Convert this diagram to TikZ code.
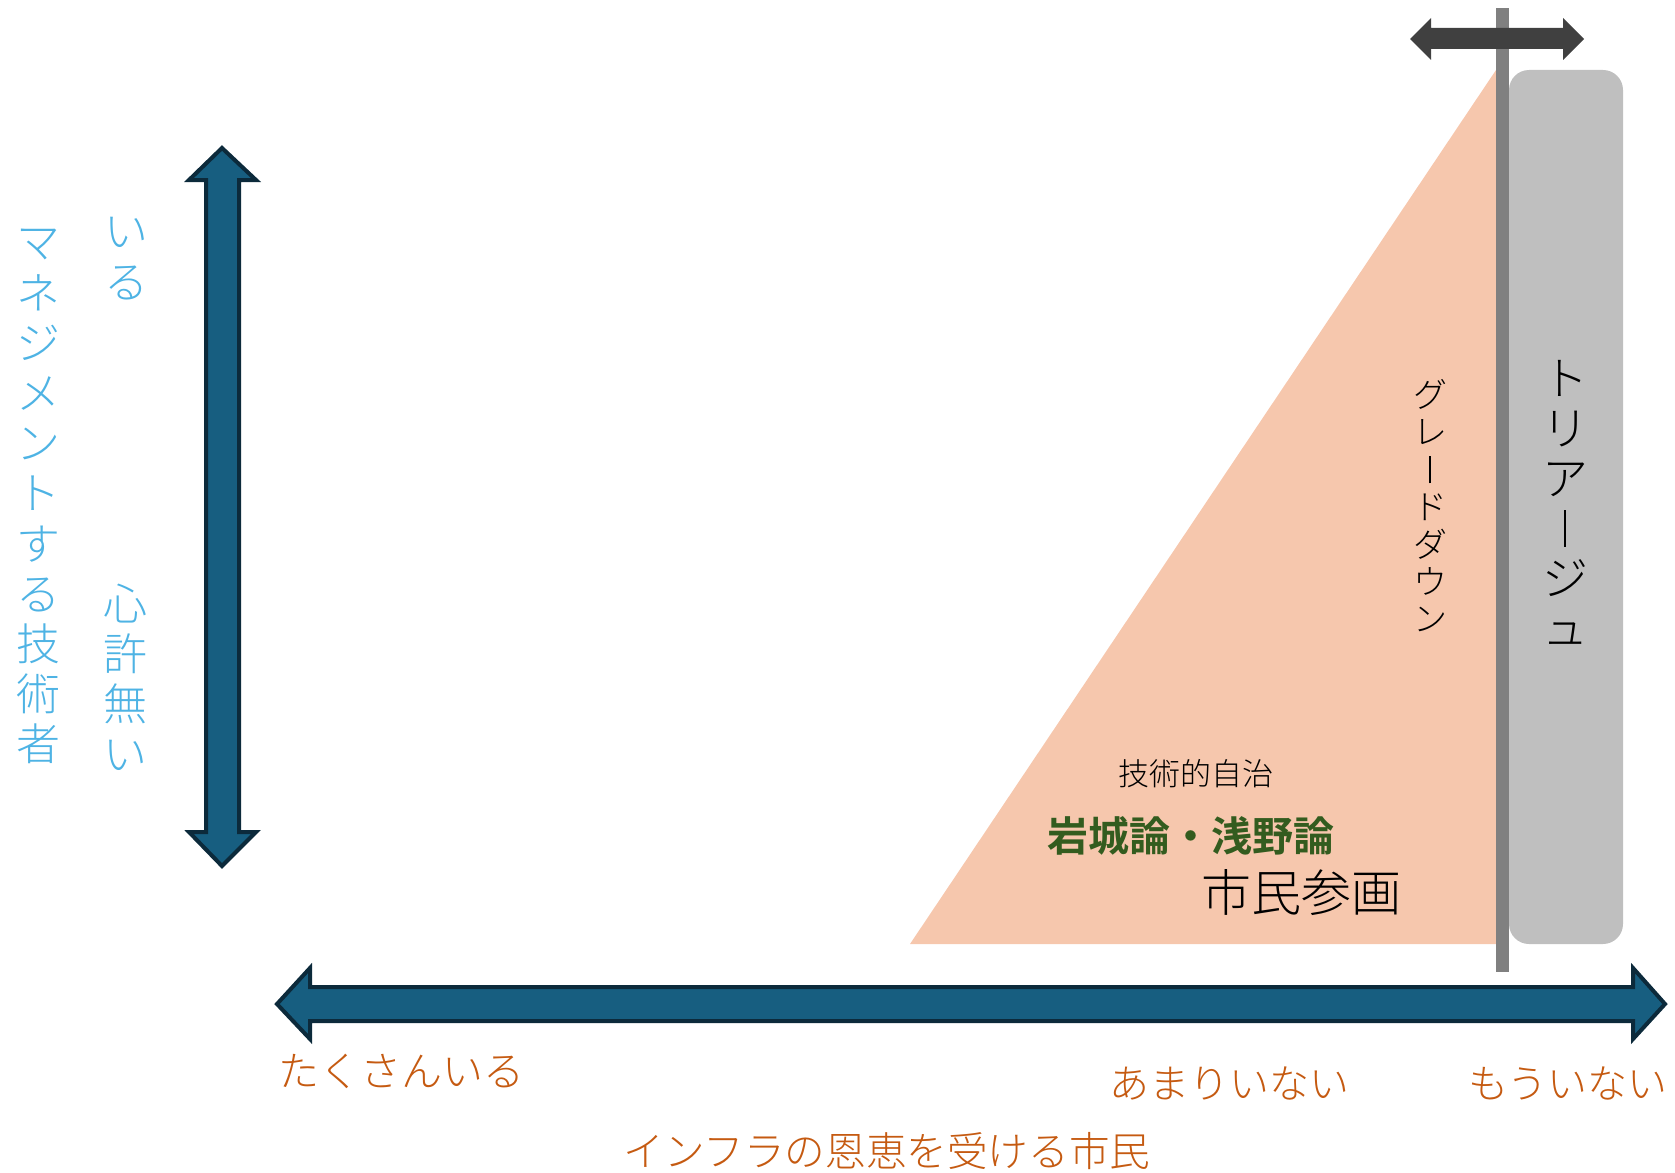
\documentclass[tikz,border=0pt]{standalone}
\usepackage{fontspec}
\IfFontExistsTF{Noto Sans CJK JP Light}
  {\newfontfamily\cjk{Noto Sans CJK JP Light}[BoldFont={Noto Sans CJK JP Bold}]}
  {\newfontfamily\cjk{Noto Sans CJK JP}}
\definecolor{arrfill}{HTML}{175E80}
\definecolor{arrline}{HTML}{0C2A3B}
\definecolor{skyb}{HTML}{4EB3E4}
\definecolor{peach}{HTML}{F6C7AD}
\definecolor{lgray}{HTML}{BFBFBF}
\definecolor{mgray}{HTML}{808080}
\definecolor{dgray}{HTML}{404040}
\definecolor{orng}{HTML}{C55A11}
\definecolor{dgreen}{HTML}{335C1F}
\newcommand{\vbar}{\makebox[1em]{\raisebox{-0.03em}{\rule{0.05em}{0.8em}}}}
\begin{document}
\begin{tikzpicture}[x=0.5pt,y=-0.5pt,
  blockarrow/.style={fill=arrfill,draw=arrline,line width=2pt,line join=miter},
  vtext/.style={align=center,inner sep=0pt,anchor=north},
  lbl/.style={inner sep=0pt,anchor=center}]
\useasboundingbox (0,0) rectangle (1675,1172);
% peach triangle
\fill[peach] (910,944) -- (1496,944) -- (1496,70) -- cycle;
% gray rounded box
\fill[lgray,rounded corners=10pt] (1509,70) rectangle (1623,944);
% vertical bar
\fill[mgray] (1496,8) rectangle (1509,972);
% top double arrow
\fill[dgray] (1410,39) -- (1431,18) -- (1431,28) -- (1563,28) -- (1563,18) -- (1584,39)
  -- (1563,60) -- (1563,49) -- (1431,49) -- (1431,60) -- cycle;
% vertical blue arrow
\draw[blockarrow] (222,148) -- (256,180) -- (239,180) -- (239,832) -- (256,832) -- (222,866)
  -- (189,832) -- (206,832) -- (206,180) -- (189,180) -- cycle;
% horizontal blue arrow
\draw[blockarrow] (277,1004) -- (310,968) -- (310,987) -- (1633,987) -- (1633,968) -- (1665,1004)
  -- (1633,1039) -- (1633,1021) -- (310,1021) -- (310,1039) -- cycle;
% vertical texts
\node[vtext,text=skyb,font=\cjk\fontsize{22}{25.1}\selectfont] (mgmt) at (39,229)
  {マ\\ネ\\ジ\\メ\\ン\\ト\\す\\る\\技\\術\\者};
\node[vtext,text=skyb,font=\cjk\fontsize{22}{25.5}\selectfont] (iru) at (126,217) {い\\る};
\node[vtext,text=skyb,font=\cjk\fontsize{22}{24.9}\selectfont] (kokoro) at (125,584) {心\\許\\無\\い};
\node[vtext,text=black,font=\cjk\fontsize{17}{18.7}\selectfont] (grade) at (1430,379)
  {グ\\レ\\\vbar\\ド\\ダ\\ウ\\ン};
\node[vtext,text=black,font=\cjk\fontsize{23}{25}\selectfont] (triage) at (1565,360)
  {ト\\リ\\ア\\\vbar\\ジ\\ュ};
% labels in the triangle
\node[lbl,font=\cjk\fontsize{15.5}{17}\selectfont] (jichi) at (1196,774) {技術的自治};
\node[lbl,text=dgreen,font=\cjk\bfseries\fontsize{20.5}{22}\selectfont] (ron) at (1191,836) {岩城論・浅野論};
\node[lbl,font=\cjk\fontsize{25}{27}\selectfont] (sanka) at (1301,893) {市民参画};
% axis labels
\node[lbl,text=orng,font=\cjk\fontsize{20.5}{22}\selectfont] (takusan) at (401,1071) {たくさんいる};
\node[lbl,text=orng,font=\cjk\fontsize{20}{22}\selectfont] (amari) at (1229,1083) {あまりいない};
\node[lbl,text=orng,font=\cjk\fontsize{20}{22}\selectfont] (mou) at (1568,1083) {もういない};
\node[lbl,text=orng,font=\cjk\fontsize{20.3}{22}\selectfont] (shimin) at (887,1151) {インフラの恩恵を受ける市民};
\end{tikzpicture}
\end{document}
